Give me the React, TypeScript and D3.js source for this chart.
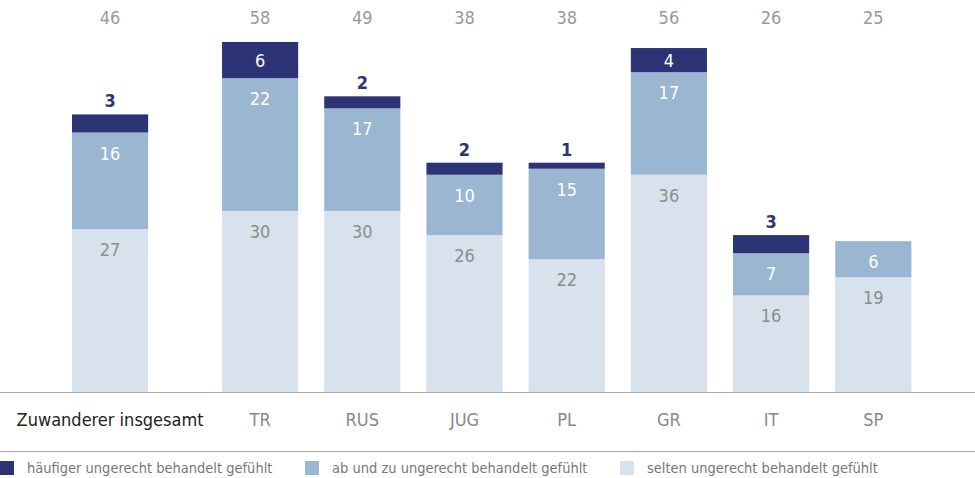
import React from "react";
import { scaleBand, scaleLinear, stack } from "d3";

// Werte aus der Grafik (Prozent)
const totalLabel = "Zuwanderer insgesamt";
const countries = ["TR", "RUS", "JUG", "PL", "GR", "IT", "SP"];
const categories = [totalLabel, ...countries];
const selten = [27, 30, 30, 26, 22, 36, 16, 19];
const abUndZu = [16, 22, 17, 10, 15, 17, 7, 6];
const haeufiger = [3, 6, 2, 2, 1, 4, 3, 0];
const totals = [46, 58, 49, 38, 38, 56, 26, 25];

const seriesKeys = ["selten", "abUndZu", "haeufiger"];
const seriesNames = [
  "häufiger ungerecht behandelt gefühlt",
  "ab und zu ungerecht behandelt gefühlt",
  "selten ungerecht behandelt gefühlt",
];
const colors: Record<string, string> = {
  selten: "#d8e2ed",
  abUndZu: "#9bb6d0",
  haeufiger: "#2d3475",
};
const labelColors: Record<string, string> = {
  selten: "#8c8c8c",
  abUndZu: "#ffffff",
  haeufiger: "#ffffff",
};

const W = 975;
const H = 478;
const FONT = "'DejaVu Sans Condensed', 'Liberation Sans Narrow', sans-serif";

const rows = categories.map((c, i) => ({
  cat: c,
  selten: selten[i],
  abUndZu: abUndZu[i],
  haeufiger: haeufiger[i],
}));

export default function App() {
  const baseY = 392;
  const y = scaleLinear().domain([0, 58]).range([baseY, 42]);

  // Gesamtbalken links, Länder rechts mit eigenem Raster
  const xTotal = scaleBand<string>()
    .domain([totalLabel])
    .range([59, 161])
    .paddingInner(0.255)
    .paddingOuter(0.1275);
  const xCountry = scaleBand<string>()
    .domain(countries)
    .range([209, 924.4])
    .paddingInner(0.255)
    .paddingOuter(0.1275);
  const xPos = (c: string) => (c === totalLabel ? xTotal(c)! : xCountry(c)!);
  const bw = xCountry.bandwidth();

  const series = stack<any>().keys(seriesKeys)(rows);

  const legendX = [0, 305, 620];

  return (
    <svg
      width={W}
      height={H}
      style={{ position: "absolute", left: 0, top: 0, background: "#fff" }}
      fontFamily={FONT}
    >
      {series.map((s) => (
        <g key={s.key}>
          {s.map((d, i) => {
            const v = d[1] - d[0];
            if (v <= 0) return null;
            const x = xPos(categories[i]);
            const top = y(d[1]);
            const h = y(d[0]) - y(d[1]);
            const inside = s.key !== "haeufiger" || v >= 4;
            return (
              <g key={i}>
                <rect x={x} y={top} width={bw} height={h} fill={colors[s.key]} />
                {inside ? (
                  <text
                    x={x + bw / 2}
                    y={s.key === "haeufiger" ? top + h / 2 + 7 : top + 27}
                    textAnchor="middle"
                    fontSize={18}
                    fill={labelColors[s.key]}
                  >
                    {v}
                  </text>
                ) : (
                  <text
                    x={x + bw / 2}
                    y={top - 7}
                    textAnchor="middle"
                    fontSize={18}
                    fontWeight="bold"
                    fill={colors.haeufiger}
                  >
                    {v}
                  </text>
                )}
              </g>
            );
          })}
        </g>
      ))}

      {categories.map((c, i) => (
        <text
          key={"t" + c}
          x={xPos(c) + bw / 2}
          y={24}
          textAnchor="middle"
          fontSize={18}
          fill="#999"
        >
          {totals[i]}
        </text>
      ))}

      <line x1={0} x2={W} y1={baseY + 0.5} y2={baseY + 0.5} stroke="#aaa" />
      {categories.map((c) => (
        <text
          key={"c" + c}
          x={xPos(c) + bw / 2}
          y={426}
          textAnchor="middle"
          fontSize={18}
          fill={c === totalLabel ? "#222" : "#888"}
        >
          {c}
        </text>
      ))}
      <line x1={0} x2={W} y1={451.5} y2={451.5} stroke="#aaa" />

      {seriesNames.map((n, i) => (
        <g key={n} transform={`translate(${legendX[i]},461)`}>
          <rect width={14} height={14} fill={colors[seriesKeys[2 - i]]} />
          <text x={27} y={12} fontSize={14.5} fill="#777">
            {n}
          </text>
        </g>
      ))}
    </svg>
  );
}
